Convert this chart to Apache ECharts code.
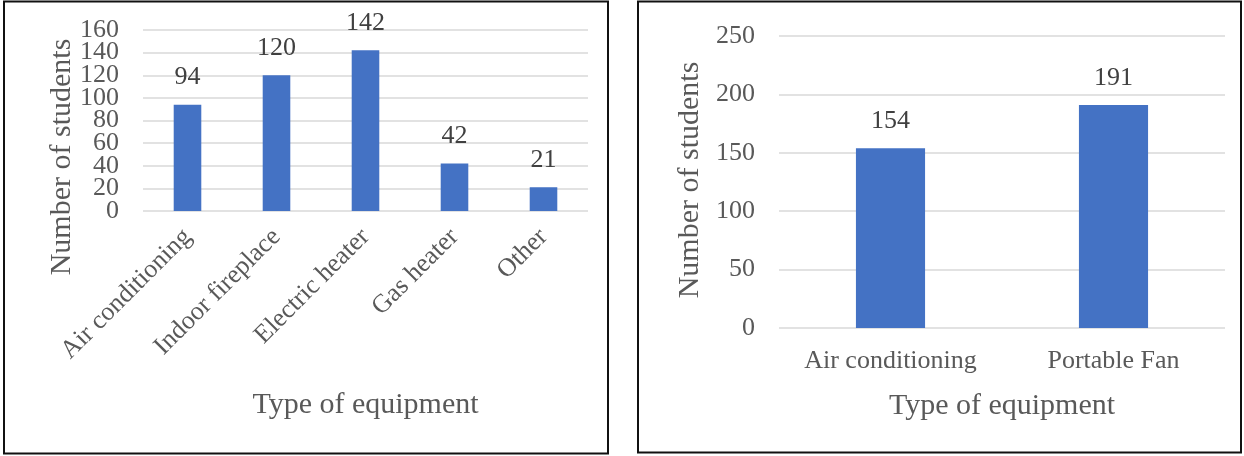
<!DOCTYPE html>
<html>
<head>
<meta charset="utf-8">
<script src="https://cdn.jsdelivr.net/npm/echarts@6/dist/echarts.min.js"></script>
<style>
  html, body { margin: 0; padding: 0; background: #ffffff; }
  #chart { width: 1244px; height: 456px; }
</style>
</head>
<body>
<div id="chart"></div>
<script>
// Heating equipment used by students
const heatingCategories = ['Air conditioning', 'Indoor fireplace', 'Electric heater', 'Gas heater', 'Other'];
const heatingValues = [94, 120, 142, 42, 21];
const heatingTicks = { min: 0, max: 160, interval: 20 };
const heatingTickLabels = [0, 20, 40, 60, 80, 100, 120, 140, 160];

// Cooling equipment used by students
const coolingCategories = ['Air conditioning', 'Portable Fan'];
const coolingValues = [154, 191];
const coolingTicks = { min: 0, max: 250, interval: 50 };
const coolingTickLabels = [0, 50, 100, 150, 200, 250];

const yTitle = 'Number of students';
const xTitle = 'Type of equipment';

const FONT = '"Liberation Serif", "Times New Roman", serif';
const TEXT = '#595959';
const GRID = '#d9d9d9';
const BAR = '#4472c4';

const chart = echarts.init(document.getElementById('chart'), null, { renderer: 'canvas' });

function xAxisFor(idx, cats, rotate, labelMargin, gap) {
  return {
    type: 'category',
    gridIndex: idx,
    data: cats,
    axisLine: { show: false },
    axisTick: { show: false },
    axisLabel: {
      interval: 0,
      rotate: rotate,
      margin: labelMargin,
      color: TEXT,
      fontFamily: FONT,
      fontSize: 26
    },
    name: xTitle,
    nameLocation: 'middle',
    nameGap: gap,
    nameTextStyle: { color: TEXT, fontFamily: FONT, fontSize: 30 }
  };
}

// The tightly spaced heating scale gets its labels split over two stacked
// axes (alternate ticks each), so none of them is dropped for crowding.
function yAxisFor(idx, ticks, labels, withGrid) {
  return {
    type: 'value',
    gridIndex: idx,
    position: 'left',
    min: ticks.min,
    max: ticks.max,
    interval: ticks.interval,
    axisLine: { show: false },
    axisTick: { show: false },
    axisLabel: {
      margin: 24,
      customValues: labels,
      color: TEXT, fontFamily: FONT, fontSize: 26
    },
    splitLine: { show: withGrid, lineStyle: { color: GRID, width: 1.5 } }
  };
}

function barSeries(xIdx, yIdx, values, width) {
  return {
    type: 'bar',
    xAxisIndex: xIdx,
    yAxisIndex: yIdx,
    data: values,
    barWidth: width,
    itemStyle: { color: BAR },
    label: {
      show: true,
      position: 'top',
      distance: 14,
      color: '#404040',
      fontFamily: FONT,
      fontSize: 26
    }
  };
}

chart.setOption({
  animation: false,
  grid: [
    { left: 143, right: 1244 - 588, top: 30, bottom: 456 - 211 },
    { left: 779, right: 1244 - 1225, top: 36, bottom: 456 - 328 }
  ],
  xAxis: [
    xAxisFor(0, heatingCategories, 45, 22, 179),
    xAxisFor(1, coolingCategories, 0, 20, 63)
  ],
  yAxis: [
    yAxisFor(0, heatingTicks, heatingTickLabels.filter((v, i) => i % 2 === 0), true),
    yAxisFor(0, heatingTicks, heatingTickLabels.filter((v, i) => i % 2 === 1), false),
    yAxisFor(1, coolingTicks, coolingTickLabels, true)
  ],
  series: [
    barSeries(0, 0, heatingValues, '31%'),
    barSeries(1, 2, coolingValues, '31%')
  ],
  graphic: [
    // panel frames
    { type: 'rect', shape: { x: 4, y: 1.5, width: 604, height: 452 },
      style: { fill: 'none', stroke: '#111', lineWidth: 2 } },
    { type: 'rect', shape: { x: 638, y: 1.5, width: 603, height: 451 },
      style: { fill: 'none', stroke: '#111', lineWidth: 2 } },
    // vertical axis titles
    { type: 'text', x: 62, y: 157, rotation: Math.PI / 2,
      style: { text: yTitle, fill: TEXT, font: '30px ' + FONT, align: 'center', verticalAlign: 'middle' } },
    { type: 'text', x: 690, y: 180, rotation: Math.PI / 2,
      style: { text: yTitle, fill: TEXT, font: '30px ' + FONT, align: 'center', verticalAlign: 'middle' } }
  ]
});
</script>
</body>
</html>
